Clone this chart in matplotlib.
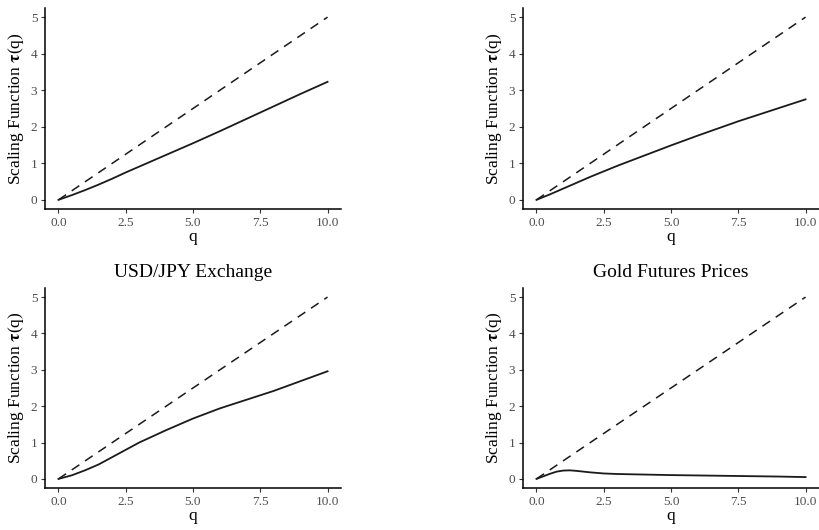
import matplotlib
matplotlib.use("Agg")
import matplotlib.pyplot as plt

plt.rcParams['font.family'] = ['Liberation Serif', 'DejaVu Serif']
plt.rcParams['mathtext.fontset'] = 'stix'

# Moment orders q and estimated scaling functions tau(q)
q_a = [0, 0.5, 1, 1.5, 2, 2.5, 3, 4, 5, 6, 7, 7.5, 8, 9, 10]
tau_a = [0, 0.13, 0.27, 0.42, 0.58, 0.75, 0.91, 1.23, 1.55, 1.88, 2.22, 2.39, 2.56, 2.90, 3.23]

q_b = [0, 0.5, 1, 1.5, 2, 2.5, 3, 4, 5, 6, 7, 7.5, 8, 9, 10]
tau_b = [0, 0.15, 0.31, 0.47, 0.63, 0.78, 0.93, 1.21, 1.49, 1.76, 2.02, 2.15, 2.27, 2.51, 2.75]

q_c = [0, 0.5, 1, 1.5, 2, 2.5, 3, 4, 5, 6, 7, 7.5, 8, 9, 10]
tau_c = [0, 0.10, 0.24, 0.40, 0.60, 0.80, 1.00, 1.34, 1.66, 1.94, 2.18, 2.30, 2.42, 2.69, 2.96]

q_d = [0, 0.25, 0.5, 0.75, 1, 1.25, 1.5, 2, 2.5, 3, 4, 5, 6, 7, 8, 9, 10]
tau_d = [0, 0.07, 0.14, 0.20, 0.23, 0.235, 0.22, 0.18, 0.15, 0.135, 0.12, 0.105,
         0.095, 0.085, 0.075, 0.065, 0.05]

# Monofractal reference line tau(q) = q/2
q_ref = [0, 10]
tau_ref = [0, 5]

panels = [
    (q_a, tau_a, None),
    (q_b, tau_b, None),
    (q_c, tau_c, "USD/JPY Exchange"),
    (q_d, tau_d, "Gold Futures Prices"),
]

W, H = 819, 530
fig = plt.figure(figsize=(W / 100, H / 100), dpi=100)

# axes boxes in pixels: left, top, right, bottom
boxes = [
    (45, 8, 341, 209),
    (523, 8, 819, 209),
    (45, 288, 341, 488),
    (523, 288, 819, 488),
]

for (qq, tt, title), (l, t, r, b) in zip(panels, boxes):
    ax = fig.add_axes([l / W, 1 - b / H, (r - l) / W, (b - t) / H])
    ax.plot(q_ref, tau_ref, color='#1a1a1a', lw=1.1, dashes=(6, 4.5))
    ax.plot(qq, tt, color='#1a1a1a', lw=1.3)
    ax.set_xlim(-0.5, 10.5)
    ax.set_ylim(-0.25, 5.25)
    ax.set_xticks([0, 2.5, 5, 7.5, 10])
    ax.set_xticklabels(['0.0', '2.5', '5.0', '7.5', '10.0'])
    ax.set_yticks([0, 1, 2, 3, 4, 5])
    for s in ('top', 'right'):
        ax.spines[s].set_visible(False)
    for s in ('left', 'bottom'):
        ax.spines[s].set_linewidth(1.1)
        ax.spines[s].set_color('black')
    ax.tick_params(axis='both', length=3, width=0.8, color='#333333',
                   labelcolor='#4d4d4d', labelsize=9.5, pad=2.5)
    ax.set_xlabel('q', fontsize=12.5, labelpad=0)
    ax.set_ylabel(r'Scaling Function $\mathbf{\tau}$(q)', fontsize=12.5, labelpad=3)
    if title:
        ax.set_title(title, fontsize=14, pad=8)

fig.savefig('out.png', dpi=100)
